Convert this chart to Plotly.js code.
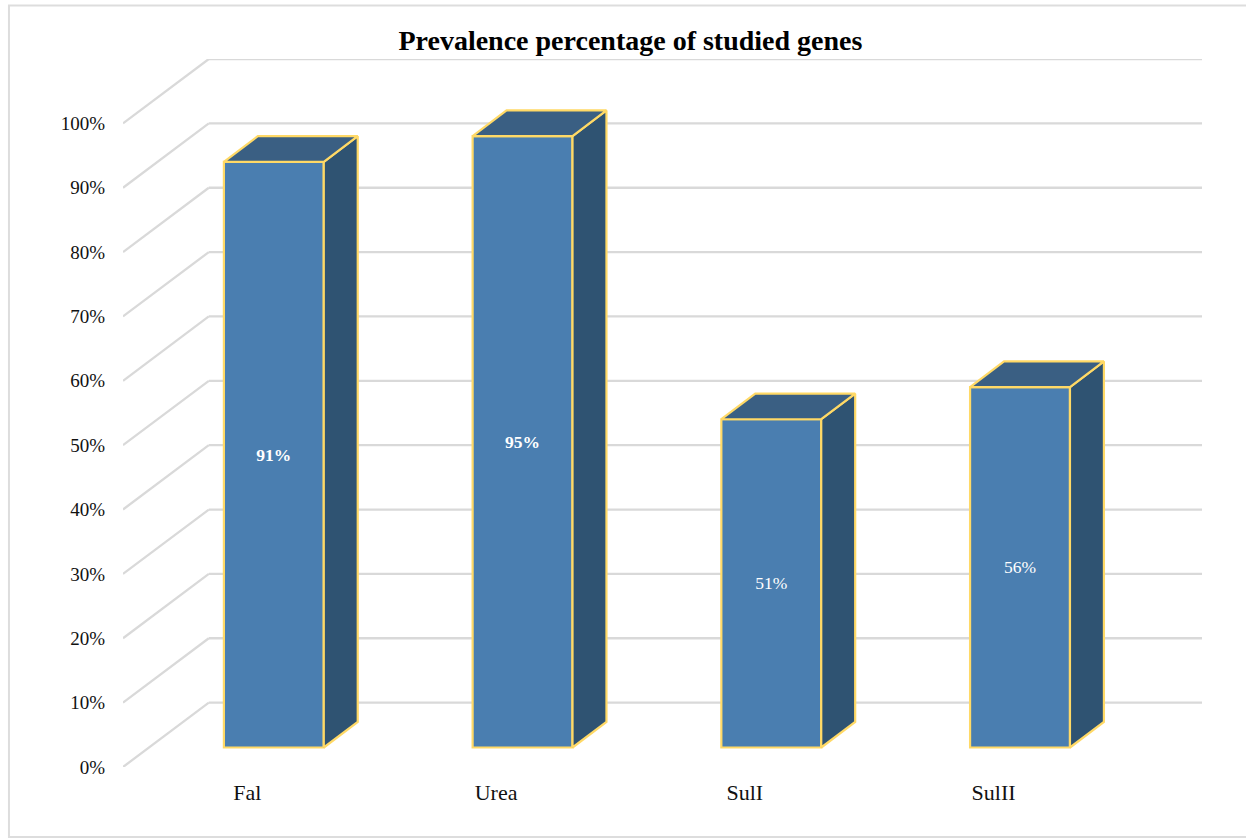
<!DOCTYPE html>
<html>
<head>
<meta charset="utf-8">
<script src="https://cdn.plot.ly/plotly-3.0.1.min.js"></script>
<style>html,body{margin:0;padding:0;background:#fff}#chart{width:1246px;height:838px}</style>
</head>
<body>
<div id="chart"></div>
<script>
var categories = ["Fal", "Urea", "SulI", "SulII"];
var values = [91, 95, 51, 56];
var labelWeights = [700, 700, 400, 400];
var yTicks = [0, 10, 20, 30, 40, 50, 60, 70, 80, 90, 100];
var yTickLabels = ["0%", "10%", "20%", "30%", "40%", "50%", "60%", "70%", "80%", "90%", "100%"];

var FONT = '"Liberation Serif", serif';
var GRID = '#D9D9D9', EDGE = '#FFD966';
var xMax = 3.838;
var wallDX = 0.345, wallDY = 10;      // depth of the chart floor, axis units
var barDX = 0.1365, barDY = 3.98;     // depth of each column
var barW = 0.4016, barOff = -0.0944, barBase = 3.03;

var idx = categories.map(function (_, i) { return i; });
var centers = idx.map(function (i) { return i + barOff + barW / 2; });

// Gridlines: floor diagonal plus back wall line per tick
var shapes = [];
yTicks.forEach(function (t) {
  var ln = { color: GRID, width: 2.3 };
  shapes.push({ type: 'line', layer: 'below', xref: 'x', yref: 'y', x0: -0.5, y0: t, x1: -0.5 + wallDX, y1: t + wallDY, line: ln });
  shapes.push({ type: 'line', layer: 'below', xref: 'x', yref: 'y', x0: -0.5 + wallDX, y0: t + wallDY, x1: xMax, y1: t + wallDY, line: ln });
});
// Frame of the chart area; its right edge runs off the page
shapes.push({ type: 'rect', layer: 'below', xref: 'paper', yref: 'paper',
  x0: -0.1057, x1: 1.06, y0: -0.0989, y1: 1.0756, line: { color: '#DDDDDD', width: 2 }, fillcolor: 'rgba(0,0,0,0)' });

function faces(build) {
  var xs = [], ys = [];
  idx.forEach(function (i) {
    var p = build(i);
    p.forEach(function (q) { xs.push(q[0]); ys.push(q[1]); });
    xs.push(null); ys.push(null);
  });
  return { x: xs, y: ys };
}
var side = faces(function (i) {
  var r = centers[i] + barW / 2, top = values[i] + barBase;
  return [[r, barBase], [r + barDX, barBase + barDY], [r + barDX, top + barDY], [r, top], [r, barBase]];
});
var top_ = faces(function (i) {
  var l = centers[i] - barW / 2, r = centers[i] + barW / 2, top = values[i] + barBase;
  return [[l, top], [l + barDX, top + barDY], [r + barDX, top + barDY], [r, top], [l, top]];
});

var traces = [
  { type: 'bar', x: centers, y: values, base: barBase, width: barW,
    marker: { color: '#4A7EB0', line: { color: EDGE, width: 2.2 } },
    text: values.map(function (v) { return v + '%'; }),
    textposition: 'inside', insidetextanchor: 'middle', textangle: 0,
    textfont: { family: FONT, size: 17.5, color: '#FFFFFF', weight: labelWeights },
    hoverinfo: 'skip', showlegend: false },
  { type: 'scatter', mode: 'lines', x: side.x, y: side.y, fill: 'toself', fillcolor: '#2F5372',
    line: { color: EDGE, width: 2.2 }, hoverinfo: 'skip', showlegend: false },
  { type: 'scatter', mode: 'lines', x: top_.x, y: top_.y, fill: 'toself', fillcolor: '#3A5F83',
    line: { color: EDGE, width: 2.2 }, hoverinfo: 'skip', showlegend: false }
];

var layout = {
  width: 1246, height: 838,
  margin: { l: 123, r: 44, t: 59, b: 71, pad: 0 },
  paper_bgcolor: '#fff', plot_bgcolor: 'rgba(0,0,0,0)',
  showlegend: false,
  title: { text: '<b>Prevalence percentage of studied genes</b>', x: 0.4703, xref: 'paper', xanchor: 'center',
    y: 0.952, yref: 'container', yanchor: 'middle', font: { family: FONT, size: 28, color: '#000' } },
  xaxis: { type: 'linear', range: [-0.5, xMax], tickmode: 'array', tickvals: idx, ticktext: categories,
    showgrid: false, zeroline: false, showline: false, ticks: '', ticklabelstandoff: 10,
    tickfont: { family: FONT, size: 22, color: '#111' } },
  yaxis: { range: [0, 110], tickmode: 'array', tickvals: yTicks, ticktext: yTickLabels,
    showgrid: false, zeroline: false, showline: false, ticks: '', ticklabelstandoff: 17,
    tickfont: { family: FONT, size: 19, color: '#111' } },
  shapes: shapes
};
Plotly.newPlot('chart', traces, layout, { displayModeBar: false, responsive: false });
</script>
</body>
</html>
